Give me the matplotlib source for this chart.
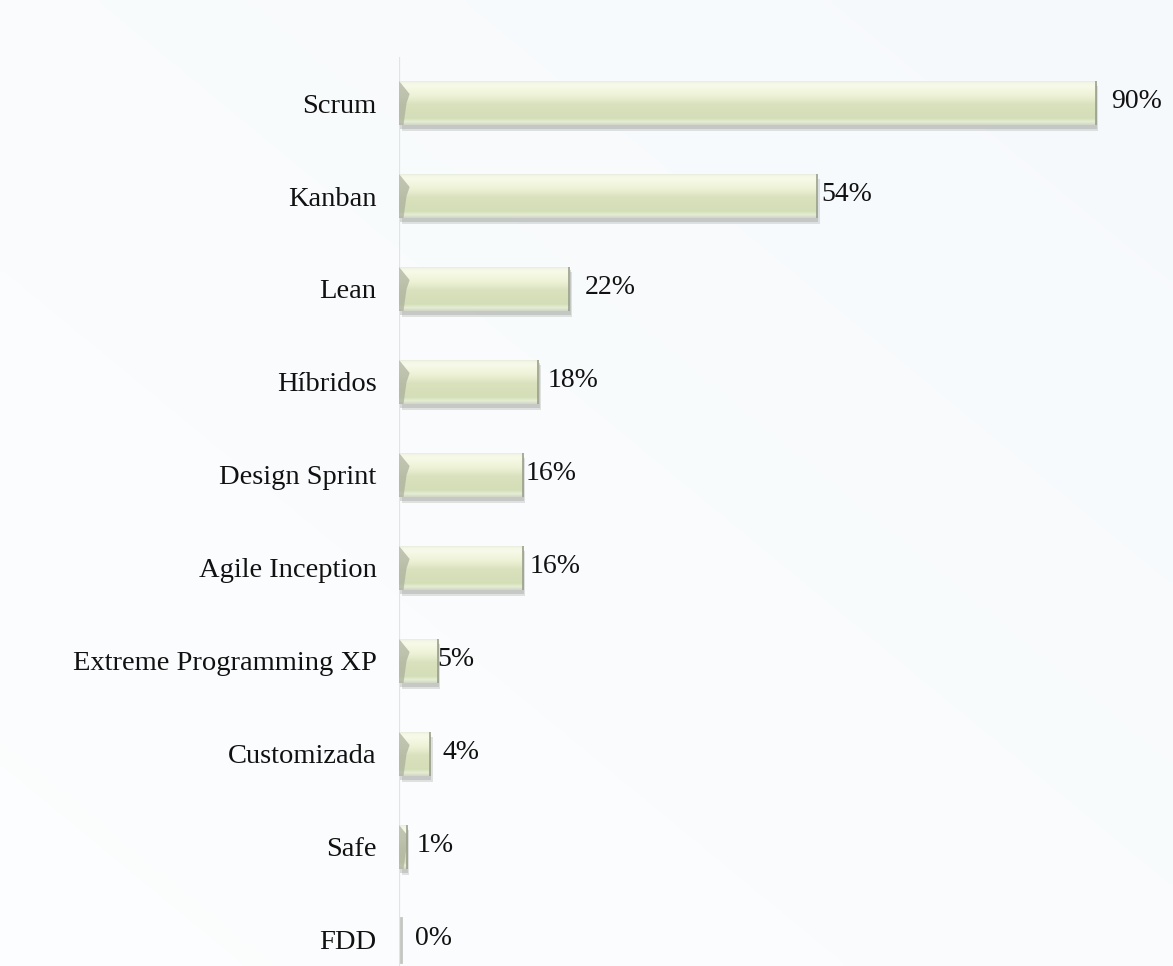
import numpy as np
import matplotlib
matplotlib.use("Agg")
import matplotlib.pyplot as plt
from matplotlib import patheffects
from matplotlib.patches import Polygon

categories = ["Scrum", "Kanban", "Lean", "Híbridos", "Design Sprint",
              "Agile Inception", "Extreme Programming XP", "Customizada",
              "Safe", "FDD"]
values = [90, 54, 22, 18, 16, 16, 5, 4, 1, 0]
value_labels = ["90%", "54%", "22%", "18%", "16%", "16%", "5%", "4%", "1%", "0%"]
# gap between the end of each bar and its value label, in points
label_pads = [11, 3, 11, 7, 2, 5, 0, 9, 7, 12]

plt.rcParams["font.family"] = ["Liberation Serif", "DejaVu Serif"]

fig = plt.figure(figsize=(11.73, 9.66), dpi=100)
fig.patch.set_facecolor("#fafcfd")

# soft background wash across the whole figure
bg = fig.add_axes([0, 0, 1, 1], zorder=-10)
yy, xx = np.mgrid[0:1:200j, 0:1:200j]
wash = 0.5 * xx + 0.5 * (1 - yy)
bg_col0 = np.array([0.990, 0.994, 0.997])
bg_col1 = np.array([0.965, 0.978, 0.988])
bg_img = bg_col0[None, None, :] * (1 - wash[..., None]) + bg_col1[None, None, :] * wash[..., None]
bg.imshow(bg_img, extent=(0, 1, 0, 1), aspect="auto", interpolation="bicubic")
bg.set_axis_off()

ax = fig.add_axes([0.340, 0.0, 0.66, 0.9415])
ax.set_facecolor("none")
ypos = np.arange(len(categories))
bar_h = 0.48

bars = ax.barh(ypos, values, height=bar_h, color="#d6dfbb", edgecolor="none",
               zorder=3)

# vertical shading profile of a bar (top -> bottom)
stops = np.array([0.0, 0.05, 0.12, 0.35, 0.55, 0.85, 0.93, 1.0])
cols = np.array([
    [0.88, 0.90, 0.84],
    [0.95, 0.96, 0.90],
    [0.97, 0.98, 0.91],
    [0.93, 0.95, 0.84],
    [0.85, 0.88, 0.74],
    [0.83, 0.87, 0.72],
    [0.90, 0.93, 0.83],
    [0.82, 0.84, 0.78],
])
t = np.linspace(0, 1, 120)
profile = np.stack([np.interp(t, stops, cols[:, k]) for k in range(3)], axis=-1)
grad = profile[:, None, :]

for bar, y, v in zip(bars, ypos, values):
    bar.set_path_effects([
        patheffects.SimplePatchShadow(offset=(2.0, -4.0), shadow_rgbFace="#9a9e98",
                                      alpha=0.28),
        patheffects.SimplePatchShadow(offset=(1.0, -2.5), shadow_rgbFace="#8c9088",
                                      alpha=0.30),
        patheffects.Normal(),
    ])
    top, bot = y - bar_h / 2, y + bar_h / 2
    if v > 0:
        im = ax.imshow(grad, extent=(0, v, bot, top), aspect="auto",
                       interpolation="bilinear", zorder=4)
        im.set_clip_path(bar)
        # bevelled left end of the bar
        wedge = Polygon([(0, top), (1.4, top + 0.30 * bar_h), (1.0, top + 0.5 * bar_h),
                         (0.6, bot), (0, bot)],
                        closed=True, facecolor="#a9ae9c", edgecolor="none",
                        alpha=0.7, zorder=5)
        ax.add_patch(wedge)
        wedge.set_clip_path(bar)
        # thin darker edge at the end of the bar
        ax.plot([v, v], [top, bot], color="#9aa08c", lw=1.2, zorder=6,
                solid_capstyle="butt")
    else:
        ax.plot([0.3, 0.3], [top, bot], color="#c4c6c0", lw=2.0, zorder=6)

# faint category axis line
ax.axvline(0, color="#e2e4e3", lw=1.6, zorder=2)

for y, v, lab, pad in zip(ypos, values, value_labels, label_pads):
    ax.annotate(lab, xy=(v, y), xytext=(pad, 1), textcoords="offset points",
                ha="left", va="center", fontsize=20, color="#111111", zorder=7)

ax.set_xlim(0, 100)
ax.set_ylim(9.28, -0.5)
ax.set_yticks(ypos)
ax.set_yticklabels(categories, fontsize=20.5, color="#111111")
ax.tick_params(axis="y", length=0, pad=16)
ax.set_xticks([])
for s in ax.spines.values():
    s.set_visible(False)

fig.savefig("out.png", dpi=100, facecolor=fig.get_facecolor())
